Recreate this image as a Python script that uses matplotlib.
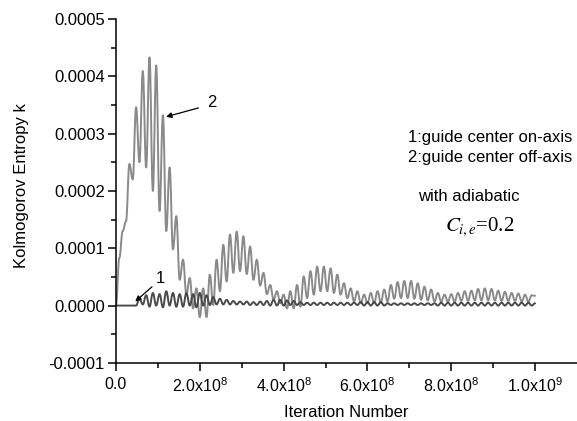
import numpy as np
import matplotlib.pyplot as plt
from matplotlib.path import Path
from matplotlib.patches import PathPatch

plt.rcParams['font.family'] = ['Liberation Sans', 'DejaVu Sans']
plt.rcParams['mathtext.default'] = 'regular'

# sampling step of the iteration number (half an oscillation period)
step = 8e6

# curve 2: guide center off-axis (units of 1e-4)
k2 = [0.00, 0.83, 1.30, 1.47, 2.47, 2.20, 3.46, 2.50, 4.09, 2.41,
      4.33, 2.00, 4.19, 1.65, 3.32, 1.30, 2.41, 0.98, 1.56, 0.45,
      0.80, 0.19, 0.48, -0.05, 0.30, -0.20, 0.30, -0.20, 0.54, 0.01,
      0.80, 0.25, 1.06, 0.42, 1.24, 0.57, 1.29, 0.60, 1.21, 0.55,
      1.03, 0.45, 0.80, 0.35, 0.57, 0.20, 0.36, 0.10, 0.25, 0.04,
      0.19, -0.05, 0.25, -0.05, 0.36, -0.02, 0.51, 0.13, 0.60, 0.19,
      0.68, 0.25, 0.68, 0.25, 0.65, 0.22, 0.54, 0.19, 0.39, 0.13,
      0.30, 0.07, 0.25, 0.04, 0.19, 0.04, 0.22, 0.04, 0.25, 0.05,
      0.28, 0.07, 0.36, 0.12, 0.41, 0.13, 0.43, 0.13, 0.43, 0.12,
      0.39, 0.10, 0.33, 0.09, 0.28, 0.07, 0.22, 0.07, 0.19, 0.07,
      0.20, 0.07, 0.22, 0.08, 0.25, 0.08, 0.26, 0.09, 0.29, 0.09,
      0.30, 0.09, 0.29, 0.09, 0.26, 0.08, 0.24, 0.08, 0.22, 0.08,
      0.21, 0.07, 0.19, 0.07, 0.18, 0.17]

# curve 1: guide center on-axis (units of 1e-4)
k1 = [0.00, 0.00, 0.00, 0.00, 0.00, 0.00, 0.00, 0.12, 0.02, 0.18,
      -0.02, 0.22, 0.00, 0.20, -0.03, 0.25, 0.00, 0.22, -0.02, 0.20,
      -0.02, 0.22, 0.00, 0.20, -0.03, 0.22, 0.00, 0.18, 0.01, 0.15,
      0.02, 0.12, 0.02, 0.10, 0.02, 0.08, 0.02, 0.07, 0.02, 0.07,
      0.01, 0.06, 0.01, 0.07, 0.01, 0.08, 0.00, 0.10, 0.00, 0.10,
      0.00, 0.09, 0.01, 0.08, 0.01, 0.06, 0.01, 0.05, 0.01, 0.05,
      0.01, 0.05, 0.01, 0.05, 0.01, 0.05, 0.01, 0.05, 0.01, 0.05,
      0.01, 0.05, 0.01, 0.06, 0.00, 0.06, 0.00, 0.06, 0.00, 0.06,
      0.00, 0.04, 0.01, 0.04, 0.01, 0.04, 0.01, 0.04, 0.01, 0.04,
      0.01, 0.04, 0.01, 0.04, 0.01, 0.04, 0.00, 0.05, 0.00, 0.05,
      0.00, 0.05, 0.00, 0.05, 0.00, 0.05, 0.00, 0.05, 0.00, 0.05,
      0.00, 0.05, 0.00, 0.05, 0.00, 0.05, 0.00, 0.05, 0.00, 0.05,
      0.00, 0.05, 0.00, 0.05, 0.00, 0.04]

xticks = [0, 2e8, 4e8, 6e8, 8e8, 1e9]
xticklabels = ['0.0', r'2.0x10$^{8}$', r'4.0x10$^{8}$', r'6.0x10$^{8}$',
               r'8.0x10$^{8}$', r'1.0x10$^{9}$']
yticks = [-0.0001, 0.0, 0.0001, 0.0002, 0.0003, 0.0004, 0.0005]
yticklabels = ['-0.0001', '0.0000', '0.0001', '0.0002', '0.0003', '0.0004', '0.0005']


def smooth_line(ax, x, y, color):
    # draw through the points with flat-tangent bezier segments (smooth connect)
    verts = [(x[0], y[0])]
    codes = [Path.MOVETO]
    for i in range(1, len(x)):
        dx = x[i] - x[i - 1]
        verts += [(x[i - 1] + 0.4 * dx, y[i - 1]), (x[i] - 0.4 * dx, y[i]), (x[i], y[i])]
        codes += [Path.CURVE4] * 3
    ax.add_patch(PathPatch(Path(verts, codes), fill=False, edgecolor=color,
                           lw=1.4, capstyle='round', joinstyle='round'))


it2 = np.arange(len(k2)) * step
it1 = np.arange(len(k1)) * step

fig = plt.figure(figsize=(5.77, 4.21), dpi=100)
ax = fig.add_axes([0.201, 0.138, 0.799, 0.817])

smooth_line(ax, it2, np.array(k2) * 1e-4, '#8a8a8a')
smooth_line(ax, it1, np.array(k1) * 1e-4, '#4a4a4a')

ax.set_xlim(0, 1.1e9)
ax.set_ylim(-0.0001, 0.0005)
ax.set_xticks(xticks)
ax.set_xticklabels(xticklabels)
ax.set_xticks(np.arange(1e8, 1.0e9, 2e8), minor=True)
ax.set_yticks(yticks)
ax.set_yticklabels(yticklabels)
ax.set_yticks(np.arange(-0.00005, 0.0005, 0.0001), minor=True)

for s in ['top', 'right']:
    ax.spines[s].set_visible(False)
for s in ['left', 'bottom']:
    ax.spines[s].set_linewidth(1.1)
ax.tick_params(which='major', direction='out', length=6, width=1.1, pad=2)
ax.tick_params(which='minor', direction='out', length=3.5, width=1.1)
ax.tick_params(axis='y', labelsize=12)
ax.tick_params(axis='x', which='major', pad=4, labelsize=11.5)

ax.set_ylabel('Kolmogorov Entropy k', fontsize=12, va='center')
ax.yaxis.set_label_coords(-0.205, 0.515)
ax.set_xlabel('Iteration Number', fontsize=12, va='center')
ax.xaxis.set_label_coords(0.5, -0.145)

# curve labels with arrows
ax.annotate('', xy=(1.13e8, 3.28e-4), xytext=(2.03e8, 3.46e-4),
            arrowprops=dict(arrowstyle='-|>', color='black', lw=0.9, mutation_scale=8))
ax.text(2.28e8, 3.55e-4, '2', fontsize=12, ha='center', va='center')
ax.annotate('', xy=(4.1e7, 0.04e-4), xytext=(9.1e7, 0.36e-4),
            arrowprops=dict(arrowstyle='-|>', color='black', lw=0.9, mutation_scale=8))
ax.text(1.05e8, 0.47e-4, '1', fontsize=12, ha='center', va='center')

ax.text(6.97e8, 2.93e-4, '1:guide center on-axis', fontsize=12, va='center')
ax.text(6.97e8, 2.58e-4, '2:guide center off-axis', fontsize=12, va='center')
ax.text(7.21e8, 1.91e-4, 'with adiabatic', fontsize=12, va='center')
ax.text(8.69e8, 1.37e-4, r'$\mathit{C}_{\mathit{i,e}}$=0.2', fontsize=15,
        family='Liberation Serif', ha='center', va='center', math_fontfamily='stix')

fig.savefig('out.png', dpi=100)
